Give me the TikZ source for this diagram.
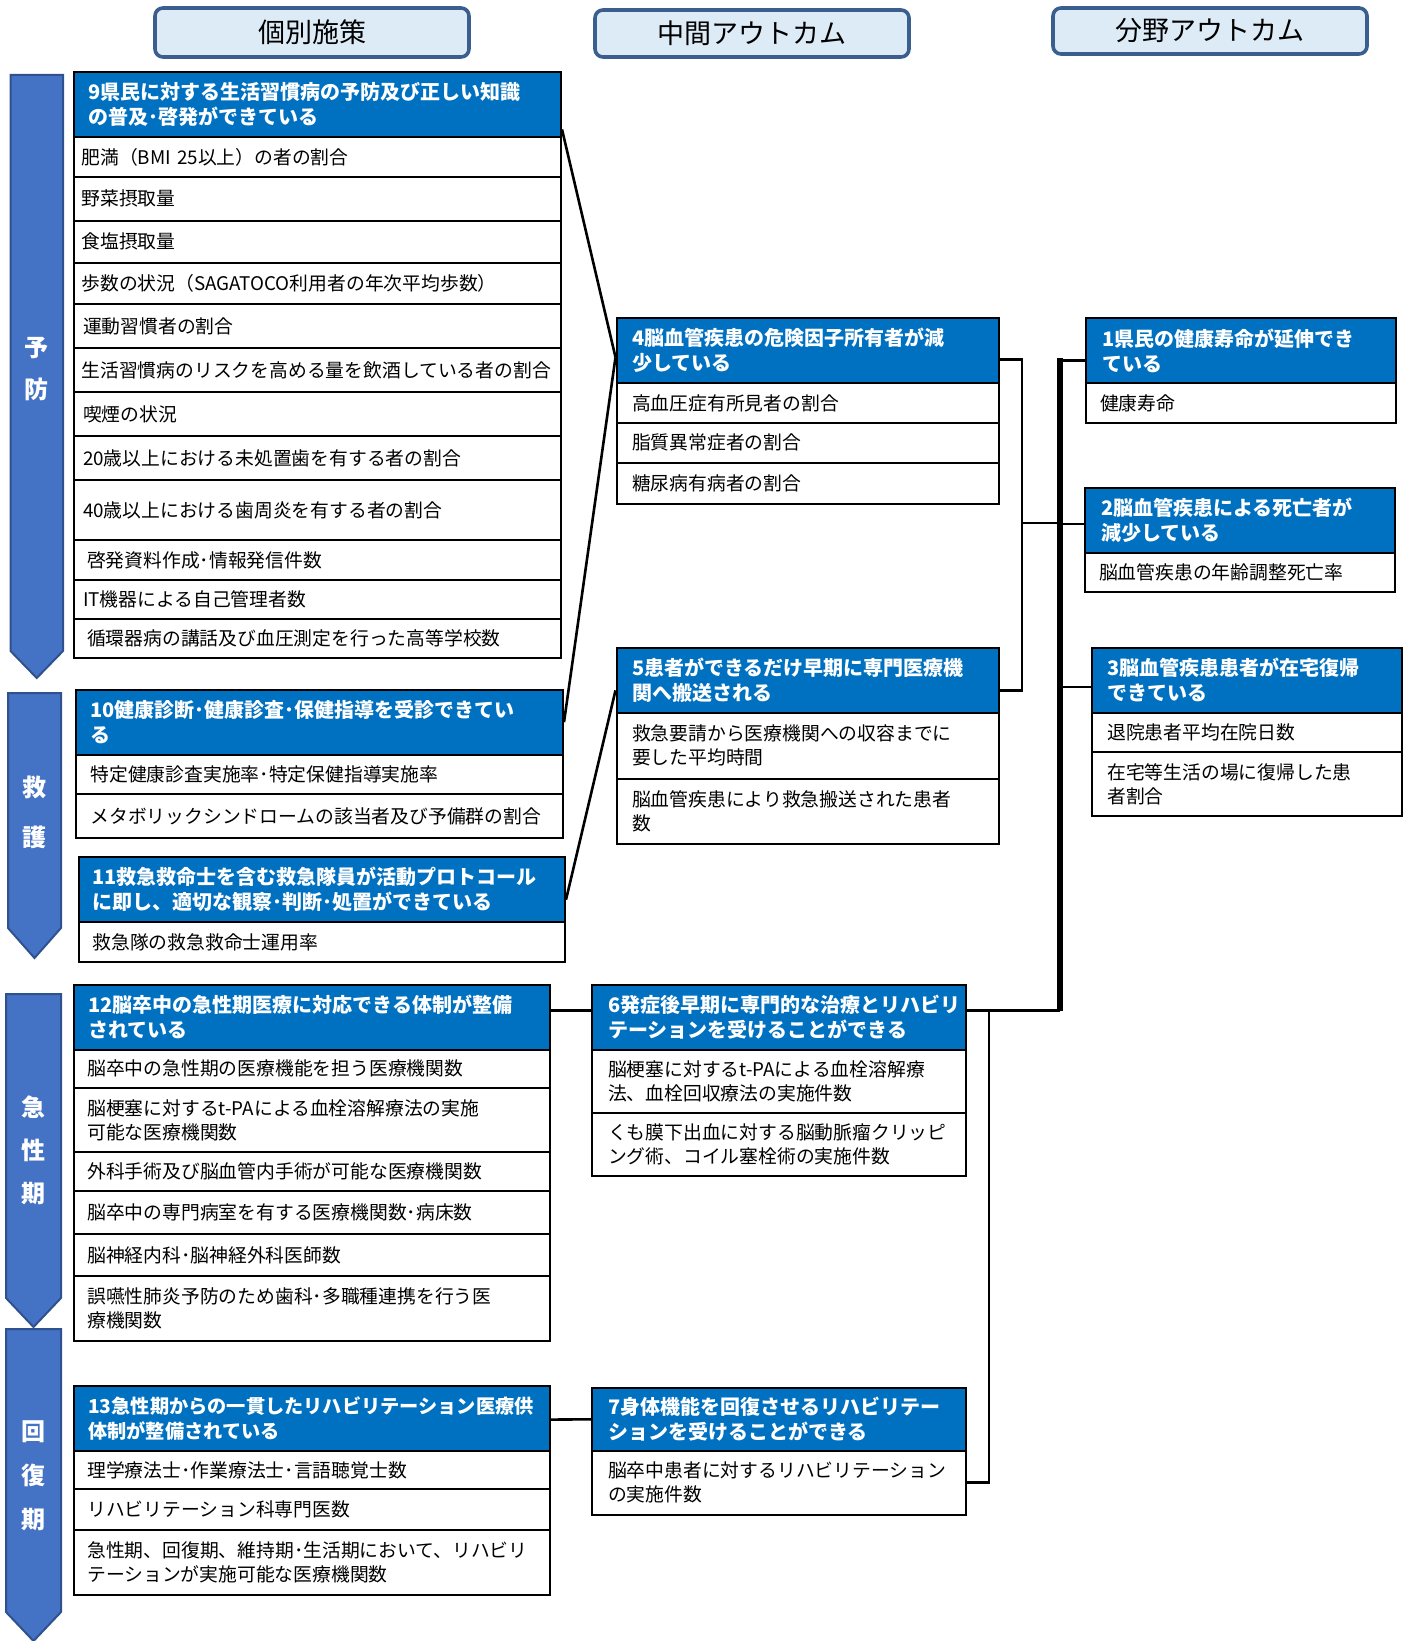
\documentclass[tikz,border=0pt]{standalone}
\usepackage{fontspec}
\setmainfont{Noto Sans CJK JP}
\usetikzlibrary{calc}
\definecolor{hdrblue}{HTML}{0070C0}
\definecolor{phasefill}{HTML}{4472C4}
\definecolor{phasedraw}{HTML}{2F528F}
\definecolor{lblfill}{HTML}{DDEBF7}
\definecolor{lbldraw}{HTML}{3A5F8F}
% #1 style, #2 name, #3 x1, #4 y1, #5 x2, #6 y2, #7 pad (pt), #8 text
\newcommand\mkcell[8]{%
  \pgfmathsetmacro\cellwd{(#5-#3)*0.5}%
  \pgfmathsetmacro\cellht{(#6-#4)*0.5}%
  \pgfmathsetmacro\celltw{\cellwd-2*#7}%
  \node[#1, inner xsep=#7pt, minimum width=\cellwd pt, minimum height=\cellht pt, text width=\celltw pt] (#2) at (#3,#4) {#8};%
}
\begin{document}
\begin{tikzpicture}[x=0.5pt,y=-0.5pt,
  cellbase/.style={draw=black, line width=1pt, inner ysep=0pt, align=left, anchor=north west},
  hdr/.style={cellbase, fill=hdrblue, text=white, font=\bfseries\fontsize{10}{12.5}\selectfont},
  hdrs/.style={hdr, font=\bfseries\fontsize{9.6}{12.5}\selectfont},
  row/.style={cellbase, fill=white, text=black, font=\fontsize{9.4}{12}\selectfont},
  lbl/.style={draw=lbldraw, fill=lblfill, line width=1.8pt, rounded corners=4pt, minimum width=157pt, font=\fontsize{13.5}{14}\selectfont, inner sep=0pt},
  phase/.style={fill=phasefill, draw=phasedraw, line width=1pt},
  phasetxt/.style={text=white, font=\bfseries\fontsize{12}{21}\selectfont, align=center, inner sep=0pt},
  conn/.style={draw=black, line width=1.3pt},
  trunk/.style={draw=black, line width=2.6pt}]
\useasboundingbox (0,0) rectangle (1412,1641);

% column labels
\node[lbl, minimum height=24.5pt] (lab1) at (312,32.5) {個別施策};
\node[lbl, minimum height=23.5pt] (lab2) at (752,33.5) {中間アウトカム};
\node[lbl, minimum height=23pt] (lab3) at (1210,31) {分野アウトカム};

% phase arrows
\path[phase] (10.5,75) -- (63,75) -- (63,651) -- (36.75,678) -- (10.5,651) -- cycle;
\node[phasetxt] (ph1) at (37,369) {予\\防};
\path[phase] (8,693) -- (61,693) -- (61,928) -- (34.5,958) -- (8,928) -- cycle;
\node[phasetxt, font=\bfseries\fontsize{12}{25}\selectfont] (ph2) at (34.5,812) {救\\護};
\path[phase] (6,994) -- (61,994) -- (61,1298) -- (33.5,1327) -- (6,1298) -- cycle;
\node[phasetxt, font=\bfseries\fontsize{12}{21.5}\selectfont] (ph3) at (33.5,1150) {急\\性\\期};
\path[phase] (6,1329) -- (61,1329) -- (61,1612) -- (33.5,1641) -- (6,1612) -- cycle;
\node[phasetxt, font=\bfseries\fontsize{12}{22}\selectfont] (ph4) at (33.5,1476) {回\\復\\期};

% box 9
\mkcell{hdr}{b9h}{73}{71.2}{560}{136.1}{7}{9県民に対する生活習慣病の予防及び正しい知識\\の普及･啓発ができている}
\mkcell{row}{b9r1}{73}{136.1}{560}{175.8}{3.7}{肥満（BMI 25以上）の者の割合}
\mkcell{row}{b9r2}{73}{175.8}{560}{219.8}{3.7}{野菜摂取量}
\mkcell{row}{b9r3}{73}{219.8}{560}{261.7}{3.7}{食塩摂取量}
\mkcell{row}{b9r4}{73}{261.7}{560}{303.5}{3.7}{歩数の状況（SAGATOCO利用者の年次平均歩数）}
\mkcell{row}{b9r5}{73}{303.5}{560}{347.5}{4.5}{運動習慣者の割合}
\mkcell{row}{b9r6}{73}{347.5}{560}{391.5}{3.7}{生活習慣病のリスクを高める量を飲酒している者の割合}
\mkcell{row}{b9r7}{73}{391.5}{560}{435.4}{4.5}{喫煙の状況}
\mkcell{row}{b9r8}{73}{435.4}{560}{479.4}{4.5}{20歳以上における未処置歯を有する者の割合}
\mkcell{row}{b9r9}{73}{479.4}{560}{539.1}{4.5}{40歳以上における歯周炎を有する者の割合}
\mkcell{row}{b9r10}{73}{539.1}{560}{578.8}{6.5}{啓発資料作成･情報発信件数}
\mkcell{row}{b9r11}{73}{578.8}{560}{617.6}{4.5}{IT機器による自己管理者数}
\mkcell{row}{b9r12}{73}{617.6}{560}{657.3}{6.5}{循環器病の講話及び血圧測定を行った高等学校数}

% box 10
\mkcell{hdr}{b10h}{75.4}{688.7}{562}{753.6}{7}{10健康診断･健康診査･保健指導を受診できてい\\る}
\mkcell{row}{b10r1}{75.4}{753.6}{562}{793.4}{7}{特定健康診査実施率･特定保健指導実施率}
\mkcell{row}{b10r2}{75.4}{793.4}{562}{837.4}{7}{メタボリックシンドロームの該当者及び予備群の割合}

% box 11
\mkcell{hdr}{b11h}{77.5}{856.2}{564}{921.1}{7}{11救急救命士を含む救急隊員が活動プロトコール\\に即し、適切な観察･判断･処置ができている}
\mkcell{row}{b11r1}{77.5}{921.1}{564}{960.9}{7}{救急隊の救急救命士運用率}

% box 12
\mkcell{hdr}{b12h}{73.3}{983.9}{548.5}{1048.8}{7}{12脳卒中の急性期医療に対応できる体制が整備\\されている}
\mkcell{row}{b12r1}{73.3}{1048.8}{548.5}{1086.5}{6.5}{脳卒中の急性期の医療機能を担う医療機関数}
\mkcell{row}{b12r2}{73.3}{1086.5}{548.5}{1151.4}{6.5}{脳梗塞に対するt-PAによる血栓溶解療法の実施\\可能な医療機関数}
\mkcell{row}{b12r3}{73.3}{1151.4}{548.5}{1190.1}{6.5}{外科手術及び脳血管内手術が可能な医療機関数}
\mkcell{row}{b12r4}{73.3}{1190.1}{548.5}{1233.0}{6.5}{脳卒中の専門病室を有する医療機関数･病床数}
\mkcell{row}{b12r5}{73.3}{1233.0}{548.5}{1274.9}{6.5}{脳神経内科･脳神経外科医師数}
\mkcell{row}{b12r6}{73.3}{1274.9}{548.5}{1339.8}{6.5}{誤嚥性肺炎予防のため歯科･多職種連携を行う医\\療機関数}

% box 13
\mkcell{hdrs}{b13h}{73.3}{1384.8}{548.5}{1449.7}{7}{13急性期からの一貫したリハビリテーション医療供\\体制が整備されている}
\mkcell{row}{b13r1}{73.3}{1449.7}{548.5}{1488.4}{6.5}{理学療法士･作業療法士･言語聴覚士数}
\mkcell{row}{b13r2}{73.3}{1488.4}{548.5}{1529.2}{6.5}{リハビリテーション科専門医数}
\mkcell{row}{b13r3}{73.3}{1529.2}{548.5}{1594.1}{6.5}{急性期、回復期、維持期･生活期において、リハビリ\\テーションが実施可能な医療機関数}

% box 4
\mkcell{hdr}{b4h}{615.5}{317.2}{997.5}{382.0}{7.8}{4脳血管疾患の危険因子所有者が減\\少している}
\mkcell{row}{b4r1}{615.5}{382.0}{997.5}{421.8}{7.8}{高血圧症有所見者の割合}
\mkcell{row}{b4r2}{615.5}{421.8}{997.5}{461.6}{7.8}{脂質異常症者の割合}
\mkcell{row}{b4r3}{615.5}{461.6}{997.5}{503.5}{7.8}{糖尿病有病者の割合}

% box 5
\mkcell{hdr}{b5h}{615.5}{646.9}{997.5}{711.8}{7.8}{5患者ができるだけ早期に専門医療機\\関へ搬送される}
\mkcell{row}{b5r1}{615.5}{711.8}{997.5}{777.7}{7.8}{救急要請から医療機関への収容までに\\要した平均時間}
\mkcell{row}{b5r2}{615.5}{777.7}{997.5}{842.6}{7.8}{脳血管疾患により救急搬送された患者\\数}

% box 6
\mkcell{hdr}{b6h}{591.4}{983.9}{965.1}{1048.8}{7.8}{6発症後早期に専門的な治療とリハビリ\\テーションを受けることができる}
\mkcell{row}{b6r1}{591.4}{1048.8}{965.1}{1111.6}{7.8}{脳梗塞に対するt-PAによる血栓溶解療\\法、血栓回収療法の実施件数}
\mkcell{row}{b6r2}{591.4}{1111.6}{965.1}{1175.4}{7.8}{くも膜下出血に対する脳動脈瘤クリッピ\\ング術、コイル塞栓術の実施件数}

% box 7
\mkcell{hdr}{b7h}{591.4}{1386.9}{965.1}{1449.7}{7.8}{7身体機能を回復させるリハビリテー\\ションを受けることができる}
\mkcell{row}{b7r1}{591.4}{1449.7}{965.1}{1513.5}{7.8}{脳卒中患者に対するリハビリテーション\\の実施件数}

% box 1
\mkcell{hdr}{b1h}{1085.4}{317.2}{1395.3}{382.0}{7.8}{1県民の健康寿命が延伸でき\\ている}
\mkcell{row}{b1r1}{1085.4}{382.0}{1395.3}{421.8}{6.8}{健康寿命}

% box 2
\mkcell{hdr}{b2h}{1084.4}{486.7}{1394.2}{551.6}{7.8}{2脳血管疾患による死亡者が\\減少している}
\mkcell{row}{b2r1}{1084.4}{551.6}{1394.2}{591.4}{6.8}{脳血管疾患の年齢調整死亡率}

% box 3
\mkcell{hdr}{b3h}{1090.7}{646.9}{1400.5}{711.8}{7.8}{3脳血管疾患患者が在宅復帰\\できている}
\mkcell{row}{b3r1}{1090.7}{711.8}{1400.5}{750.5}{7.8}{退院患者平均在院日数}
\mkcell{row}{b3r2}{1090.7}{750.5}{1400.5}{815.4}{7.8}{在宅等生活の場に復帰した患\\者割合}

% connector points
\coordinate (p9e) at ($(b9h.north east)!0.87!(b9h.south east)$);
\coordinate (p10e) at ($(b10h.north east)!0.5!(b10h.south east)$);
\coordinate (p11e) at ($(b11h.north east)!0.65!(b11h.south east)$);
\coordinate (p4w) at ($(b4h.north west)!0.6!(b4h.south west)$);
\coordinate (p5w) at ($(b5h.north west)!0.65!(b5h.south west)$);
\coordinate (p4e) at ($(b4h.north east)!0.63!(b4h.south east)$);
\coordinate (p5e) at ($(b5h.north east)!0.65!(b5h.south east)$);
\coordinate (p1w) at ($(b1h.north west)!0.65!(b1h.south west)$);
\coordinate (p2w) at ($(b2h.north west)!0.56!(b2h.south west)$);
\coordinate (p3w) at ($(b3h.north west)!0.6!(b3h.south west)$);
\coordinate (p12e) at ($(b12h.north east)!0.4!(b12h.south east)$);
\coordinate (p6w) at ($(b6h.north west)!0.4!(b6h.south west)$);
\coordinate (p6e) at ($(b6h.north east)!0.4!(b6h.south east)$);
\coordinate (p13e) at ($(b13h.north east)!0.52!(b13h.south east)$);
\coordinate (p7w) at ($(b7h.north west)!0.5!(b7h.south west)$);
\coordinate (brk) at (1022,523);
\coordinate (trT) at (1060,358);
\coordinate (trB) at (1060,1011);
\coordinate (j67) at (989,1010);

% connectors
\draw[conn] (p9e) -- (p4w);
\draw[conn] (p10e) -- (p4w);
\draw[conn] (p11e) -- (p5w);
\draw[conn] (p4e) -| (brk);
\draw[conn] (p5e) -| (brk);
\draw[conn] (brk) -- (brk -| trT);
\draw[trunk] (trT) -- (trB);
\draw[conn] (p1w) -- (p1w -| trT);
\draw[conn] (p2w) -- (p2w -| trT);
\draw[conn] (p3w) -- (p3w -| trT);
\draw[conn] (p12e) -- (p6w);
\draw[conn] (p6e) -- (p6e -| trT);
\draw[conn] (p13e) -- (p7w);
\draw[conn] (b7r1.east) -| (p6e -| j67);
\end{tikzpicture}
\end{document}
